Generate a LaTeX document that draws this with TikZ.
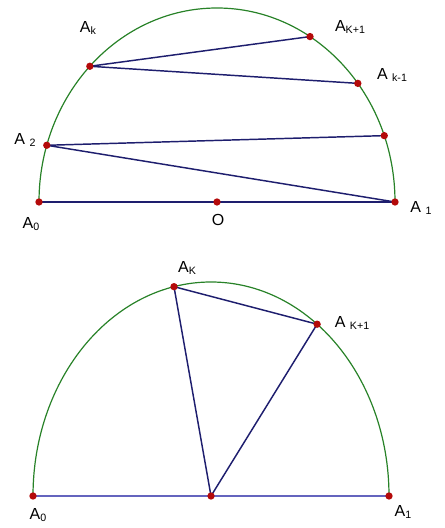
\documentclass[tikz,border=0pt]{standalone}
\usepackage{fontspec}
\setmainfont{Liberation Sans}
\usepackage{tikz}
\usetikzlibrary{calc}
\definecolor{arcgreen}{RGB}{40,130,40}
\definecolor{chordblue}{RGB}{30,30,110}
\definecolor{baseblue}{RGB}{100,100,190}
\definecolor{dotred}{RGB}{180,10,10}
\tikzstyle{arcline} = [draw=arcgreen, line width=0.9pt]
\tikzstyle{chord}   = [draw=chordblue, line width=1.1pt]
\tikzstyle{base}    = [draw=baseblue, line width=1.5pt]
\tikzstyle{dot}     = [circle, fill=dotred, inner sep=0pt, minimum size=5.5pt]
\tikzstyle{lab}     = [inner sep=0pt, font=\fontsize{12}{14}\selectfont]
\newcommand{\sub}[1]{{\fontsize{8}{9}\selectfont\raisebox{-1pt}{#1}}}

\begin{document}
\begin{tikzpicture}[x=0.75pt, y=0.75pt]

  \useasboundingbox (0,0) rectangle (445,528);

  %% ── Upper half-ellipse ─────────────────────────────────────────
  \coordinate (O)  at (217,326);
  \coordinate (A0) at ($(O)+(-178,0)$);
  \coordinate (A1) at ($(O)+(178,0)$);
  \coordinate (Ak)  at ($(O)+({178*cos(135.6)},{194*sin(135.6)})$);
  \coordinate (Akp) at ($(O)+({178*cos(58.5)},{194*sin(58.5)})$);
  \coordinate (Akm) at ($(O)+({178*cos(37.7)},{194*sin(37.7)})$);
  \coordinate (A2)  at ($(O)+({178*cos(163)},{194*sin(163)})$);
  \coordinate (P)   at ($(O)+({178*cos(20)},{194*sin(20)})$);

  \draw[arcline] (A0) arc[start angle=180, end angle=0, x radius=178, y radius=194];

  \draw[chord] (A0) -- (A1);
  \draw[chord] (Ak) -- (Akp);
  \draw[chord] (Ak) -- (Akm);
  \draw[chord] (A2) -- (P);
  \draw[chord] (A2) -- (A1);

  \foreach \p in {A0,O,A1,Ak,Akp,Akm,A2,P}
    \node[dot] (d\p) at (\p) {};

  \node[lab] (lAk)  at (88,500)  {A\sub{k}};
  \node[lab] (lAkp) at (350,501) {A\sub{K+1}};
  \node[lab] (lAkm) at (392,453) {A \sub{k-1}};
  \node[lab] (lA2)  at (25,388)  {A \sub{2}};
  \node[lab] (lA0)  at (31,304)  {A\sub{0}};
  \node[lab] (lO)   at (218,308) {O};
  \node[lab] (lA1)  at (421,320) {A \sub{1}};

  %% ── Lower half-ellipse ─────────────────────────────────────────
  \coordinate (M)  at (211,32);
  \coordinate (B0) at ($(M)+(-178,0)$);
  \coordinate (B1) at ($(M)+(178,0)$);
  \coordinate (Bk)  at ($(M)+({178*cos(102)},{214*sin(102)})$);
  \coordinate (Bkp) at ($(M)+({178*cos(53.4)},{214*sin(53.4)})$);

  \draw[arcline] (B0) arc[start angle=180, end angle=0, x radius=178, y radius=214];

  \draw[base]  (B0) -- (B1);
  \draw[chord] (Bk) -- (Bkp);
  \draw[chord] (Bk) -- (M);
  \draw[chord] (Bkp) -- (M);

  \foreach \p in {B0,M,B1,Bk,Bkp}
    \node[dot] (d\p) at (\p) {};

  \node[lab] (lBk)  at (187,260) {A\sub{K}};
  \node[lab] (lBkp) at (352,205) {A \sub{K+1}};
  \node[lab] (lB0)  at (38,13)   {A\sub{0}};
  \node[lab] (lB1)  at (403,16)  {A\sub{1}};

\end{tikzpicture}
\end{document}
